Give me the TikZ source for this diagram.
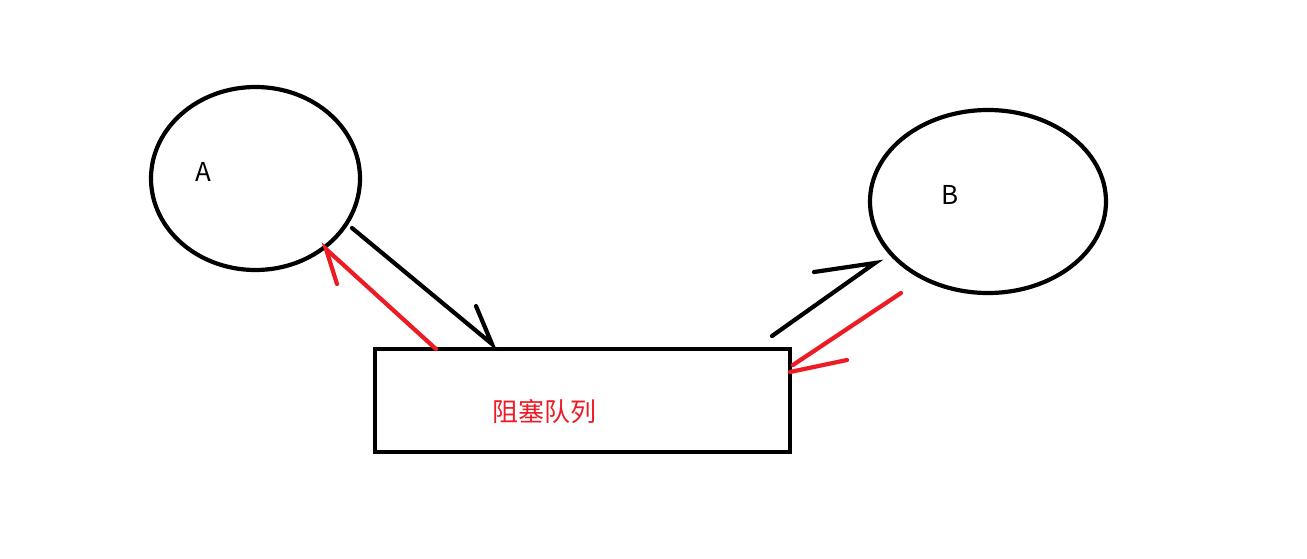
\documentclass[tikz,border=0pt]{standalone}
\usepackage{fontspec}
\newfontfamily\cjk{Noto Sans CJK SC}
\usetikzlibrary{shapes.geometric}
\definecolor{pred}{RGB}{237,28,36}
\begin{document}
\begin{tikzpicture}[x=1pt,y=-1pt,
  bubble/.style={ellipse,draw=black,line width=4.2pt,inner sep=0pt},
  queuebox/.style={rectangle,draw=black,line width=4.6pt,inner sep=0pt},
  blk/.style={draw=black,line width=4.2pt,line cap=round},
  rd/.style={draw=pred,line width=4.2pt,line cap=round},
  lbl/.style={inner sep=0pt,anchor=base,font=\cjk\fontsize{26}{30}\selectfont}]
\useasboundingbox[fill=white] (0,0) rectangle (1307,558);
% nodes
\node[bubble,minimum width=209pt,minimum height=183pt] (A) at (255.5,178.5) {};
\node[bubble,minimum width=236pt,minimum height=183pt] (B) at (988,201.5) {};
\node[queuebox,minimum width=415pt,minimum height=103pt] (Q) at (582.5,400.5) {};
\node[lbl] (la) at (203,181) {A};
\node[lbl] (lb) at (950,204) {B};
\node[lbl,text=pred] (lq) at (544.5,421) {阻塞队列};
% connector end points
\coordinate (a1) at (352,228);
\coordinate (a2) at (492,344);
\coordinate (a3) at (476,306);
\coordinate (r1) at (436,349);
\coordinate (r2) at (326,249);
\coordinate (r3) at (337,284);
\coordinate (b1) at (772,336);
\coordinate (b2) at (875,263);
\coordinate (b3) at (814,272);
\coordinate (s1) at (901,293);
\coordinate (s2) at (793,365);
\coordinate (s3) at (790,372);
\coordinate (s4) at (847,360);
% A -> queue (black)
\draw[blk] (a1) -- (a2) -- (a3);
% queue -> A (red)
\draw[rd] (r1) -- (r2) -- (r3);
% queue -> B (black)
\draw[blk] (b1) -- (b2) -- (b3);
% B -> queue (red)
\draw[rd] (s1) -- (s2);
\draw[rd] (s3) -- (s4);
\end{tikzpicture}
\end{document}
